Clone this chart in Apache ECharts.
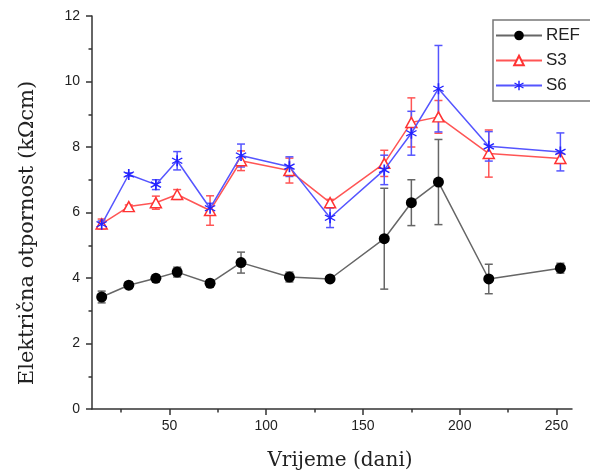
<!DOCTYPE html>
<html><head><meta charset="utf-8">
<script src="https://cdn.jsdelivr.net/npm/echarts@6/dist/echarts.min.js"></script>
<style>html,body{margin:0;padding:0;background:#fff}#c{width:590px;height:474px}</style>
</head><body><div id="c"></div>
<script>
const days = [15, 29, 43, 54, 71, 87, 112, 133, 161, 175, 189, 215, 252];
const refVals = [3.42, 3.78, 3.99, 4.18, 3.84, 4.47, 4.03, 3.97, 5.2, 6.3, 6.93, 3.97, 4.3];
const refErr  = [0.18, 0.1, 0.1, 0.15, 0.1, 0.32, 0.15, 0.06, 1.54, 0.7, 1.3, 0.45, 0.15];
const s3Vals  = [5.65, 6.18, 6.3, 6.55, 6.06, 7.58, 7.28, 6.3, 7.5, 8.75, 8.92, 7.8, 7.65];
const s3Err   = [0.15, 0.05, 0.2, 0.15, 0.45, 0.3, 0.38, 0.1, 0.4, 0.75, 0.5, 0.72, 0.15];
const s6Vals  = [5.64, 7.16, 6.85, 7.58, 6.13, 7.74, 7.4, 5.84, 7.3, 8.42, 9.78, 8.02, 7.85];
const s6Err   = [0.1, 0.05, 0.15, 0.28, 0.15, 0.35, 0.3, 0.3, 0.45, 0.67, 1.32, 0.45, 0.58];
const xMajor = [50, 100, 150, 200, 250];
const xMinor = [25, 75, 125, 175, 225];
const xTitle = 'Vrijeme (dani)';
const yTitle = 'Električna otpornost (kΩcm)';

const asterisk = 'path://M-0.7,-5L0.7,-5L0.7,5L-0.7,5Z M4.03,-3.02L4.63,-1.98L-4.03,3.02L-4.63,1.98Z M-4.63,-1.98L-4.03,-3.02L4.63,1.98L4.03,3.02Z';

function pairs(v){ return days.map((d,i)=>[d, v[i]]); }
function errData(v,e){ return days.map((d,i)=>[d, v[i], e[i]]); }
function errSeries(name, v, e, color){
  return {
    type:'custom', name: name+'_err', data: errData(v,e), z: 1, silent:true,
    renderItem: function(params, api){
      const x = api.value(0), y = api.value(1), er = api.value(2);
      const t = api.coord([x, y+er]), b = api.coord([x, y-er]);
      const w = 4;
      const st = {stroke: color, lineWidth: 1.5};
      return {type:'group', children:[
        {type:'line', shape:{x1:t[0],y1:t[1],x2:b[0],y2:b[1]}, style:st},
        {type:'line', shape:{x1:t[0]-w,y1:t[1],x2:t[0]+w,y2:t[1]}, style:st},
        {type:'line', shape:{x1:b[0]-w,y1:b[1],x2:b[0]+w,y2:b[1]}, style:st}
      ]};
    }
  };
}

const chart = echarts.init(document.getElementById('c'), null, {renderer:'canvas'});
const axisCol = '#333';
chart.setOption({
  animation:false,
  grid:{left:92, right:18, top:16, bottom:65, containLabel:false},
  legend:{
    data:['REF','S3','S6'], orient:'vertical', left:493, top:20,
    itemWidth:46, itemHeight:12, itemGap:8, padding:[7,12,7,2],
    borderColor:'#777', borderWidth:1.5, backgroundColor:'#fff',
    textStyle:{fontFamily:'Liberation Sans, Arial', fontSize:17, color:'#222', padding:[0,0,0,-1]}
  },
  graphic:[
    {type:'text', x:28, y:233, rotation:Math.PI/2,
     style:{text:yTitle, font:'21px "DejaVu Serif"', fill:'#222', align:'center', verticalAlign:'middle'}},
    {type:'text', x:340, y:461,
     style:{text:xTitle, font:'20px "DejaVu Serif"', fill:'#222', align:'center', verticalAlign:'middle'}}
  ],
  xAxis:[{
    type:'value', min:10, max:258,
    axisLine:{show:true, onZero:false, lineStyle:{color:axisCol, width:1.5}},
    axisTick:{show:true, customValues:xMajor, length:6, lineStyle:{color:axisCol, width:1.5}},
    axisLabel:{customValues:xMajor, margin:10, fontFamily:'Liberation Sans, Arial', fontSize:14, color:'#222'},
    splitLine:{show:false}
  },{
    type:'value', min:10, max:258, position:'bottom',
    axisLine:{show:false},
    axisTick:{show:true, customValues:xMinor, length:3.5, lineStyle:{color:axisCol, width:1.5}},
    axisLabel:{show:false}, splitLine:{show:false}
  }],
  yAxis:{
    type:'value', min:0, max:12, interval:2,
    axisLine:{show:true, lineStyle:{color:axisCol, width:1.5}},
    axisTick:{show:true, length:6, lineStyle:{color:axisCol, width:1.5}},
    minorTick:{show:true, splitNumber:2, length:3.5, lineStyle:{color:axisCol, width:1.5}},
    axisLabel:{margin:12, fontFamily:'Liberation Sans, Arial', fontSize:14, color:'#222'},
    splitLine:{show:false}
  },
  series:[
    errSeries('REF', refVals, refErr, '#666'),
    errSeries('S3', s3Vals, s3Err, '#ff5555'),
    errSeries('S6', s6Vals, s6Err, '#5555ff'),
    {name:'REF', type:'line', data:pairs(refVals), z:3,
     symbol:'circle', symbolSize:11,
     lineStyle:{color:'#666', width:1.5},
     itemStyle:{color:'#000', borderColor:'#000', borderWidth:0}},
    {name:'S3', type:'line', data:pairs(s3Vals), z:3,
     symbol:'triangle', symbolSize:[11,10],
     lineStyle:{color:'#ff5555', width:1.5},
     itemStyle:{color:'#fff', borderColor:'#ff3333', borderWidth:1.5}},
    {name:'S6', type:'line', data:pairs(s6Vals), z:4,
     symbol:asterisk, symbolSize:11,
     lineStyle:{color:'#5555ff', width:1.5},
     itemStyle:{color:'#2222ff', borderWidth:0}}
  ]
});
</script></body></html>
